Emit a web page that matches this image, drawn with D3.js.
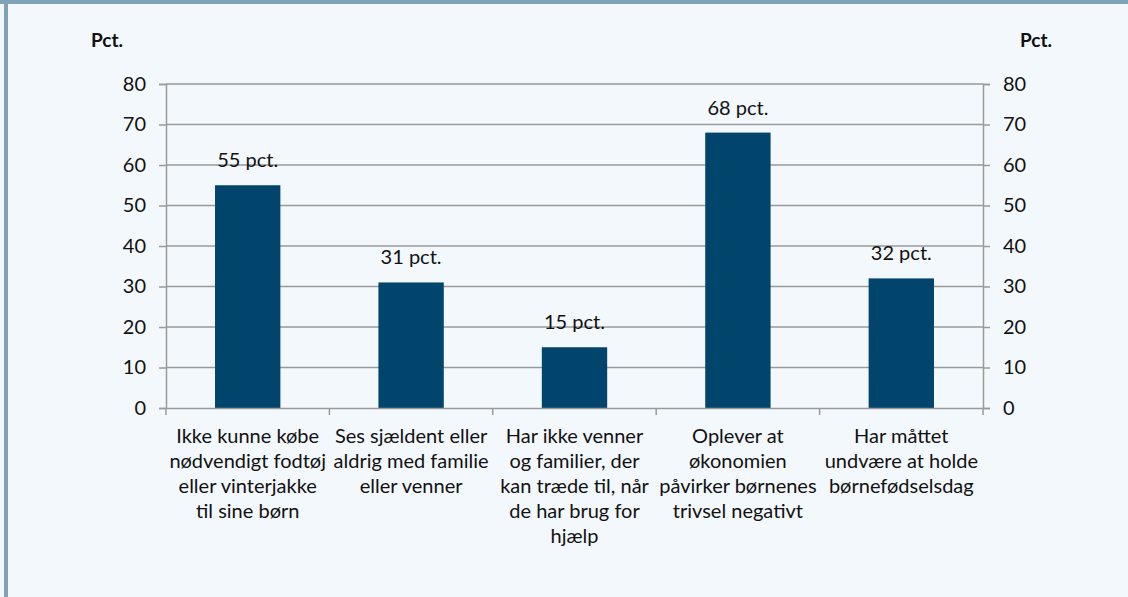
<!DOCTYPE html>
<html>
<head>
<meta charset="utf-8">
<script src="https://cdn.jsdelivr.net/npm/d3@7"></script>
<style>
    body { margin: 0; background: #f3f8fd; }
    text { font-family: Lato, "Open Sans", sans-serif; fill: #111; }
</style>
</head>
<body>
<div id="chart"></div>
<script>
// chart data
var categories = ["fodtoej", "familie", "venner", "oekonomi", "foedselsdag"];
var categoryLines = [
    ["Ikke kunne købe", "nødvendigt fodtøj", "eller vinterjakke", "til sine børn"],
    ["Ses sjældent eller", "aldrig med familie", "eller venner"],
    ["Har ikke venner", "og familier, der", "kan træde til, når", "de har brug for", "hjælp"],
    ["Oplever at", "økonomien", "påvirker børnenes", "trivsel negativt"],
    ["Har måttet", "undvære at holde", "børnefødselsdag"]
];
var values = [55, 31, 15, 68, 32];
var yTicks = [0, 10, 20, 30, 40, 50, 60, 70, 80];
var unitLabel = "Pct.";

// set up basic svg
var svgWidth = 1128;
var svgHeight = 597;

var svg = d3.select("#chart")
    .append("svg")
    .attr("width", svgWidth)
    .attr("height", svgHeight);

// background and frame
svg.append("rect")
    .attr("width", svgWidth)
    .attr("height", svgHeight)
    .attr("fill", "#f3f8fd");

svg.append("rect")
    .attr("x", 0)
    .attr("y", 0)
    .attr("width", svgWidth)
    .attr("height", 4)
    .attr("fill", "#7fa2b8");

svg.append("rect")
    .attr("x", 4)
    .attr("y", 0)
    .attr("width", 4)
    .attr("height", svgHeight)
    .attr("fill", "#7fa2b8");

// plot area
var plot = { left: 166, right: 983, top: 84, bottom: 408 };

var yScale = d3.scaleLinear()
    .domain([0, 80])
    .range([plot.bottom, plot.top]);

// band scale for category slots and one for the bars
var slotScale = d3.scaleBand()
    .domain(categories)
    .range([plot.left, plot.right]);

var barScale = d3.scaleBand()
    .domain(categories)
    .range([plot.left, plot.right])
    .paddingInner(0.6)
    .paddingOuter(0.3);

var gridColor = "#9a9a9a";

// gridlines
svg.append("g")
    .selectAll("line")
    .data(yTicks.filter(d => d > 0))
    .enter()
    .append("line")
    .attr("x1", plot.left)
    .attr("x2", plot.right)
    .attr("y1", d => yScale(d))
    .attr("y2", d => yScale(d))
    .attr("stroke", gridColor)
    .attr("stroke-width", 1.5);

// left axis
var leftAxis = d3.axisLeft(yScale)
    .tickValues(yTicks)
    .tickSize(7)
    .tickPadding(13);

var leftG = svg.append("g")
    .attr("transform", `translate(${plot.left}, 0)`)
    .call(leftAxis);

// right axis
var rightAxis = d3.axisRight(yScale)
    .tickValues(yTicks)
    .tickSize(7)
    .tickPadding(13);

var rightG = svg.append("g")
    .attr("transform", `translate(${plot.right}, 0)`)
    .call(rightAxis);

[leftG, rightG].forEach(function (g) {
    g.select(".domain").attr("stroke", gridColor).attr("stroke-width", 1.5);
    g.selectAll(".tick line").attr("stroke", gridColor).attr("stroke-width", 1.5);
    g.selectAll(".tick text")
        .attr("font-size", 20)
        .attr("font-family", "Lato, sans-serif")
        .attr("fill", "#111");
});

// bars
svg.append("g")
    .selectAll("rect")
    .data(values)
    .enter()
    .append("rect")
    .attr("x", (d, i) => barScale(categories[i]))
    .attr("y", d => yScale(d))
    .attr("width", barScale.bandwidth())
    .attr("height", d => plot.bottom - yScale(d))
    .attr("fill", "#01456d");

// bar value labels
svg.append("g")
    .selectAll("text")
    .data(values)
    .enter()
    .append("text")
    .attr("x", (d, i) => barScale(categories[i]) + barScale.bandwidth() / 2)
    .attr("y", d => yScale(d) - 18)
    .attr("text-anchor", "middle")
    .attr("font-size", 20)
    .text(d => d + " pct.");

// bottom axis with ticks between categories
var bottomAxis = d3.axisBottom(slotScale)
    .tickSize(0)
    .tickFormat("");

var xG = svg.append("g")
    .attr("transform", `translate(0, ${plot.bottom})`)
    .call(bottomAxis);

xG.select(".domain").attr("stroke", gridColor).attr("stroke-width", 1.5);

xG.selectAll(".sep")
    .data(categories.concat(["end"]))
    .enter()
    .append("line")
    .attr("x1", (d, i) => plot.left + i * slotScale.step())
    .attr("x2", (d, i) => plot.left + i * slotScale.step())
    .attr("y1", 0)
    .attr("y2", 7)
    .attr("stroke", gridColor)
    .attr("stroke-width", 1.5);

// category labels
var catLabels = svg.append("g")
    .selectAll("text")
    .data(categoryLines)
    .enter()
    .append("text")
    .attr("text-anchor", "middle")
    .attr("font-size", 20)
    .attr("x", (d, i) => slotScale(categories[i]) + slotScale.bandwidth() / 2)
    .attr("y", plot.bottom + 35);

catLabels.selectAll("tspan")
    .data(d => d)
    .enter()
    .append("tspan")
    .attr("x", function () { return d3.select(this.parentNode).attr("x"); })
    .attr("dy", (d, i) => i === 0 ? 0 : 25)
    .text(d => d);

// unit labels
svg.append("text")
    .attr("x", 107)
    .attr("y", 47)
    .attr("text-anchor", "middle")
    .attr("font-size", 19)
    .attr("font-weight", "bold")
    .text(unitLabel);

svg.append("text")
    .attr("x", 1036)
    .attr("y", 47)
    .attr("text-anchor", "middle")
    .attr("font-size", 19)
    .attr("font-weight", "bold")
    .text(unitLabel);
</script>
</body>
</html>
